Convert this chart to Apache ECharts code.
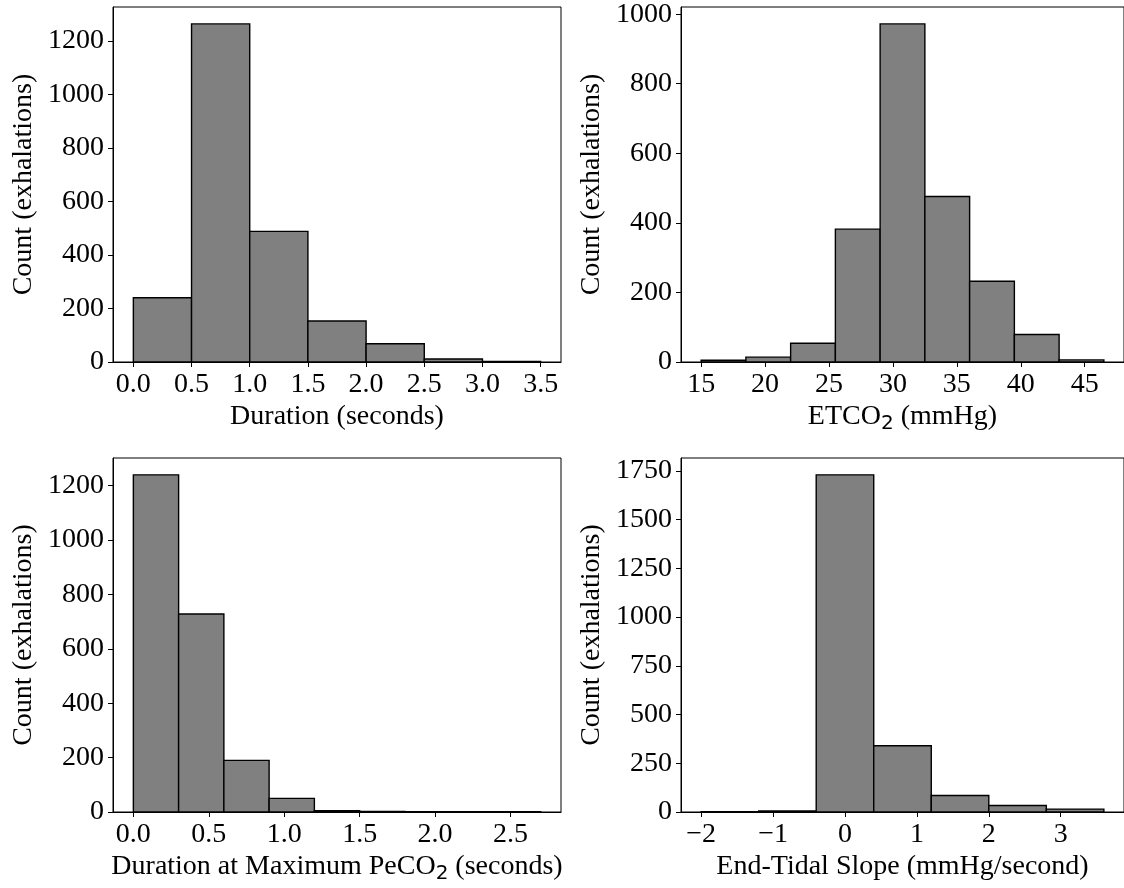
<!DOCTYPE html>
<html>
<head>
<meta charset="utf-8">
<script src="https://cdn.jsdelivr.net/npm/echarts@6/dist/echarts.min.js"></script>
<style>
  html, body { margin: 0; padding: 0; background: #fff; }
  #chart { width: 1124px; height: 888px; }
</style>
</head>
<body>
<div id="chart"></div>
<script>
// Histogram bins: first edge, bin width and counts per bin
const durationStart = 0, durationWidth = 0.5;
const durationCounts = [240, 1263, 488, 153, 68, 11, 2];

const etco2Start = 15, etco2Width = 3.5;
const etco2Counts = [5, 14, 54, 382, 972, 476, 232, 79, 6];

const plateauStart = 0, plateauWidth = 0.3;
const plateauCounts = [1240, 728, 190, 50, 5, 2, 1, 1, 1];

const slopeStart = -2, slopeWidth = 0.8;
const slopeCounts = [1, 5, 1729, 340, 85, 33, 15];

// Tick labels
const durationTicks = [0, 0.5, 1, 1.5, 2, 2.5, 3, 3.5];
const etco2Ticks = [15, 20, 25, 30, 35, 40, 45];
const plateauTicks = [0, 0.5, 1, 1.5, 2, 2.5];
const slopeTicks = [-2, -1, 0, 1, 2, 3];
const countTicks1200 = [0, 200, 400, 600, 800, 1000, 1200];
const countTicks1000 = [0, 200, 400, 600, 800, 1000];
const countTicks1750 = [0, 250, 500, 750, 1000, 1250, 1500, 1750];

const yTitle = 'Count (exhalations)';

function toBins(start, width, counts) {
  return counts.map((c, i) => [start + i * width, start + (i + 1) * width, c]);
}

// Axis limits with a 5% margin on the data span, counts from zero
function xLimits(start, width, counts) {
  const end = start + width * counts.length;
  const pad = (end - start) * 0.05;
  return [start - pad, end + pad];
}
function yLimit(counts) { return Math.max(...counts) * 1.05; }

const FONT = 'Liberation Serif';
const minus = v => (v < 0 ? '\u2212' + Math.abs(v) : String(v));

function xAxis(idx, lim, ticks, fmt, name) {
  return {
    type: 'value', gridIndex: idx, min: lim[0], max: lim[1],
    name: name, nameLocation: 'middle', nameGap: 38,
    nameTextStyle: {
      fontFamily: FONT, fontSize: 28, color: '#000',
      rich: {
        a: { fontFamily: FONT, fontSize: 28, color: '#000', lineHeight: 34, verticalAlign: 'middle' },
        b: { fontFamily: 'DejaVu Sans', fontSize: 20, color: '#000', lineHeight: 20, verticalAlign: 'bottom' }
      }
    },
    splitLine: { show: false },
    axisLine: { show: true, onZero: false, lineStyle: { color: '#000', width: 1 } },
    axisTick: { show: true, length: 5, lineStyle: { color: '#000', width: 1 }, customValues: ticks },
    axisLabel: {
      fontFamily: FONT, fontSize: 28, color: '#000', margin: 9,
      customValues: ticks, formatter: fmt
    }
  };
}

function yAxis(idx, max, ticks) {
  return {
    type: 'value', gridIndex: idx, min: 0, max: max,
    name: yTitle, nameLocation: 'middle', nameGap: 75, nameRotate: 90,
    nameTextStyle: { fontFamily: FONT, fontSize: 28, color: '#000' },
    splitLine: { show: false },
    axisLine: { show: true, onZero: false, lineStyle: { color: '#000', width: 1 } },
    axisTick: { show: true, length: 5, lineStyle: { color: '#000', width: 1 }, customValues: ticks },
    axisLabel: {
      fontFamily: FONT, fontSize: 28, color: '#000', margin: 9,
      customValues: ticks, formatter: v => String(v)
    }
  };
}

function renderBin(params, api) {
  const lo = api.coord([api.value(0), 0]);
  const hi = api.coord([api.value(1), api.value(2)]);
  return {
    type: 'rect',
    shape: { x: lo[0], y: hi[1], width: hi[0] - lo[0], height: lo[1] - hi[1] },
    style: { fill: '#808080', stroke: '#000', lineWidth: 1.4 }
  };
}

function histSeries(idx, bins) {
  return {
    type: 'custom', xAxisIndex: idx, yAxisIndex: idx,
    renderItem: renderBin, data: bins,
    encode: { x: [0, 1], y: 2 }, clip: false, silent: true
  };
}

const gridBase = { show: true, borderColor: '#000', borderWidth: 1, backgroundColor: 'transparent', containLabel: false };

const chart = echarts.init(document.getElementById('chart'), null, { renderer: 'canvas' });
chart.setOption({
  backgroundColor: '#fff',
  animation: false,
  grid: [
    Object.assign({ left: 113, width: 448, top: 7, height: 355 }, gridBase),
    Object.assign({ left: 681, width: 446, top: 7, height: 355 }, gridBase),
    Object.assign({ left: 113, width: 448, top: 458, height: 354 }, gridBase),
    Object.assign({ left: 681, width: 446, top: 458, height: 354 }, gridBase)
  ],
  xAxis: [
    xAxis(0, xLimits(durationStart, durationWidth, durationCounts), durationTicks, v => v.toFixed(1),
      '{a|Duration (seconds)}'),
    xAxis(1, xLimits(etco2Start, etco2Width, etco2Counts), etco2Ticks, v => String(v),
      '{a|ETCO}{b|2}{a| (mmHg)}'),
    xAxis(2, xLimits(plateauStart, plateauWidth, plateauCounts), plateauTicks, v => v.toFixed(1),
      '{a|Duration at Maximum PeCO}{b|2}{a| (seconds)}'),
    xAxis(3, xLimits(slopeStart, slopeWidth, slopeCounts), slopeTicks, minus,
      '{a|End-Tidal Slope (mmHg/second)}')
  ],
  yAxis: [
    yAxis(0, yLimit(durationCounts), countTicks1200),
    yAxis(1, yLimit(etco2Counts), countTicks1000),
    yAxis(2, yLimit(plateauCounts), countTicks1200),
    yAxis(3, yLimit(slopeCounts), countTicks1750)
  ],
  series: [
    histSeries(0, toBins(durationStart, durationWidth, durationCounts)),
    histSeries(1, toBins(etco2Start, etco2Width, etco2Counts)),
    histSeries(2, toBins(plateauStart, plateauWidth, plateauCounts)),
    histSeries(3, toBins(slopeStart, slopeWidth, slopeCounts))
  ]
});
</script>
</body>
</html>
